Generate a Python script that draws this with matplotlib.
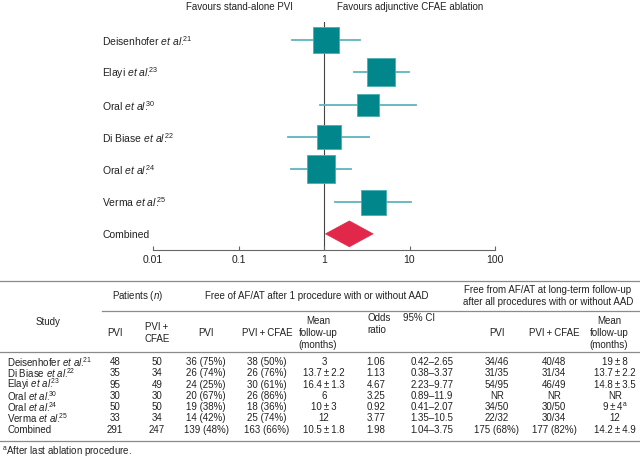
import numpy as np
import matplotlib
matplotlib.use('Agg')
import matplotlib.pyplot as plt
from matplotlib.patches import Polygon

plt.rcParams['font.family'] = ['Liberation Sans', 'DejaVu Sans']
plt.rcParams['mathtext.fontset'] = 'custom'
plt.rcParams['mathtext.rm'] = 'Liberation Sans'
plt.rcParams['mathtext.it'] = 'Liberation Sans:italic'

# table data (table order)
authors = ['Deisenhofer', 'Di Biase', 'Elayi', 'Oral', 'Oral', 'Verma', 'Combined']
refs = ['21', '22', '23', '30', '24', '25', None]
n_pvi = [48, 35, 95, 30, 50, 33, 291]
n_cfae = [50, 34, 49, 30, 50, 34, 247]
free_pvi = ['36 (75%)', '26 (74%)', '24 (25%)', '20 (67%)', '19 (38%)', '14 (42%)', '139 (48%)']
free_cfae = ['38 (50%)', '26 (76%)', '30 (61%)', '26 (86%)', '18 (36%)', '25 (74%)', '163 (66%)']
follow_up = ['3', '13.7\u2009±\u20092.2', '16.4\u2009±\u20091.3', '6', '10\u2009±\u20093', '12',
             '10.5\u2009±\u20091.8']
odds_ratio = [1.06, 1.13, 4.67, 3.25, 0.92, 3.77, 1.98]
ci_lo = [0.42, 0.38, 2.23, 0.89, 0.41, 1.35, 1.04]
ci_hi = [2.65, 3.37, 9.77, 11.9, 2.07, 10.5, 3.75]
lt_pvi = ['34/46', '31/35', '54/95', 'NR', '34/50', '22/32', '175 (68%)']
lt_cfae = ['40/48', '31/34', '46/49', 'NR', '30/50', '30/34', '177 (82%)']
lt_follow_up = ['19\u2009±\u20098', '13.7\u2009±\u20092.2', '14.8\u2009±\u20093.5', 'NR',
                '9\u2009±\u20094$^{\\mathrm{a}}$', '12', '14.2\u2009±\u20094.9']

# forest plot order (indices into the table) and square sizes (study weight)
forest_order = [0, 2, 3, 1, 4, 5]
square_px = [26, 27.5, 22, 24, 27, 25]

text_col = '#222222'
rule_col = '#8a8a8a'
teal = '#00868b'
teal_light = '#5fb4bb'
red = '#e2284a'


def study_label(i):
    if refs[i] is None:
        return authors[i]
    return authors[i] + ' $\\mathit{et\\ al.}^{\\!\\!\\!\\mathrm{' + refs[i] + '}}$'


fig = plt.figure(figsize=(6.4, 4.6), dpi=100)

# overlay in pixel coordinates for the headers and the table
tab = fig.add_axes([0, 0, 1, 1])
tab.set_xlim(0, 640)
tab.set_ylim(460, 0)
tab.axis('off')

fs = 7
tab.text(239, 7, 'Favours stand-alone PVI', ha='center', va='center', fontsize=fs, color=text_col)
tab.text(410, 7, 'Favours adjunctive CFAE ablation', ha='center', va='center', fontsize=fs,
         color=text_col)

# forest plot
ax = fig.add_axes([153 / 640, 209 / 460, 342 / 640, 228 / 460])
ax.set_xscale('log')
ax.set_xlim(0.01, 100)
ax.set_ylim(6.5, -0.56)

for row, i in enumerate(forest_order):
    ax.plot([ci_lo[i], ci_hi[i]], [row, row], color=teal_light, lw=1.3, zorder=2)
    side = square_px[row] * 72 / 100
    ax.scatter([odds_ratio[i]], [row], marker='s', s=side ** 2, color=teal,
               edgecolors='#4aaeb4', linewidths=0.6, zorder=3)
    ax.text(-0.149, row, study_label(i), transform=ax.get_yaxis_transform(),
            ha='left', va='center', fontsize=fs + 0.5, color=text_col)

c = 6
h = 0.4
diamond = Polygon([[ci_lo[c], c], [odds_ratio[c], c - h], [ci_hi[c], c], [odds_ratio[c], c + h]],
                  closed=True, facecolor=red, edgecolor=red, lw=0.5, zorder=3)
ax.add_patch(diamond)
ax.text(-0.149, c, 'Combined', transform=ax.get_yaxis_transform(),
        ha='left', va='center', fontsize=fs + 0.5, color=text_col)

ax.axvline(1, color='#444444', lw=0.8, zorder=1)
for s in ['top', 'left', 'right']:
    ax.spines[s].set_visible(False)
ax.spines['bottom'].set_color('#666666')
ax.spines['bottom'].set_linewidth(0.8)
ax.set_yticks([])
ax.minorticks_off()
ax.set_xticks([0.01, 0.1, 1, 10, 100])
ax.set_xticklabels(['0.01', '0.1', '1', '10', '100'])
ax.tick_params(axis='x', direction='in', length=3, width=0.8, color='#666666',
               labelsize=fs + 0.5, labelcolor=text_col, pad=3)
ax.patch.set_visible(False)

# table rules
tab.plot([0, 640], [281.5, 281.5], color=rule_col, lw=0.9)
tab.plot([102, 640], [311.5, 311.5], color=rule_col, lw=0.9)
tab.plot([0, 640], [352.5, 352.5], color=rule_col, lw=0.9)
tab.plot([0, 640], [441.5, 441.5], color=rule_col, lw=0.9)

# group headers
tab.text(138, 296, 'Patients ($\\mathit{n}$)', ha='center', va='center', fontsize=fs, color=text_col)
tab.text(317, 296, 'Free of AF/AT after 1 procedure with or without AAD', ha='center',
         va='center', fontsize=fs, color=text_col)
tab.text(548, 296, 'Free from AF/AT at long-term follow-up\nafter all procedures with or without AAD',
         ha='center', va='center', fontsize=fs, color=text_col, linespacing=1.25)

# column headers
tab.text(48, 322, 'Study', ha='center', va='center', fontsize=fs, color=text_col)
col_x = [115, 157, 206, 267, 324, 376, 432, 497, 554, 615]
headers = ['PVI', 'PVI\u2009+\nCFAE', 'PVI', 'PVI\u2009+\u2009CFAE', 'Mean\nfollow-up\n(months)',
           None, None, 'PVI', 'PVI\u2009+\u2009CFAE', 'Mean\nfollow-up\n(months)']
for x, hd in zip(col_x, headers):
    if hd is None:
        continue
    tab.text(x if 'Mean' not in hd else x - 6, 333, hd, ha='center', va='center', fontsize=fs,
             color=text_col, linespacing=1.25)
tab.text(367, 313, 'Odds\nratio', ha='left', va='top', fontsize=fs, color=text_col,
         linespacing=1.25)
tab.text(419, 313, '95% CI', ha='center', va='top', fontsize=fs, color=text_col)

# table body
row_y = 362
dy = 11.3
for i in range(len(authors)):
    y = row_y + i * dy
    tab.text(7, y, study_label(i), ha='left', va='center', fontsize=fs, color=text_col)
    cells = [str(n_pvi[i]), str(n_cfae[i]), free_pvi[i], free_cfae[i], follow_up[i],
             f'{odds_ratio[i]:.2f}', f'{ci_lo[i]:.2f}\u2013{ci_hi[i]:.3g}',
             lt_pvi[i], lt_cfae[i], lt_follow_up[i]]
    for x, cell in zip(col_x, cells):
        tab.text(x, y, cell, ha='center', va='center', fontsize=fs, color=text_col)

tab.text(2, 452, '$^{\\mathrm{a}}$After last ablation procedure.', ha='left', va='center',
         fontsize=fs, color=text_col)

fig.savefig('out.png', dpi=100)
